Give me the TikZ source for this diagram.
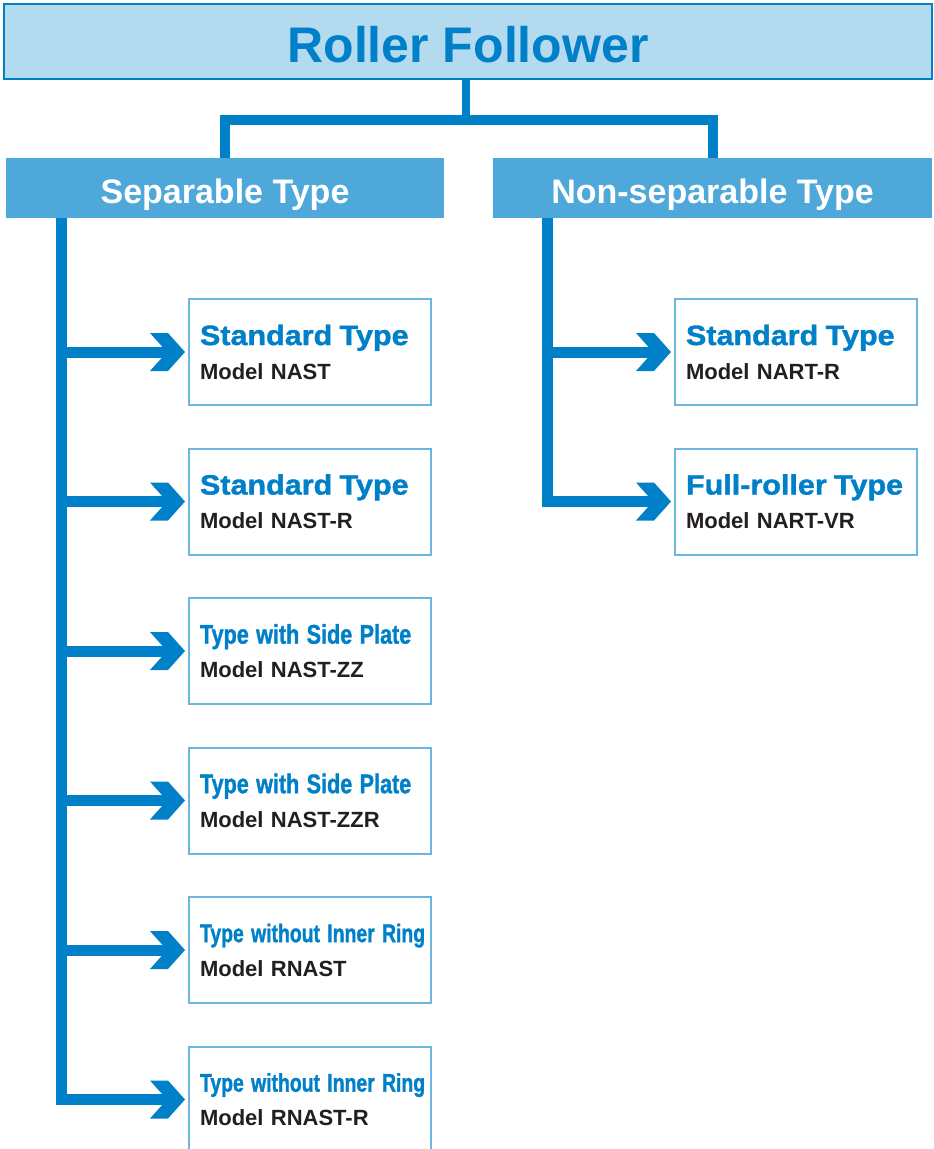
\documentclass[tikz,border=0pt]{standalone}
\usepackage{fontspec}
\setmainfont{Liberation Sans}
\newfontfamily\widefont[FakeStretch=1.09,FakeBold=1.4]{Liberation Sans}
\newfontfamily\narrowfont[FakeStretch=0.8,FakeBold=1.2]{Liberation Sans}
\newfontfamily\narrowerfont[FakeStretch=0.76,FakeBold=1.2]{Liberation Sans}
\definecolor{linkblue}{RGB}{0,128,200}
\definecolor{headfill}{RGB}{79,168,218}
\definecolor{titlefill}{RGB}{179,218,238}
\definecolor{boxline}{RGB}{107,181,224}
\definecolor{inkgray}{RGB}{35,31,32}
\newcommand{\kind}[1]{\mbox{\widefont\bfseries\color{linkblue}\fontsize{28}{34}\selectfont #1}}
\newcommand{\sidekind}[1]{\mbox{\narrowfont\bfseries\color{linkblue}\fontsize{27}{34}\selectfont #1}}
\newcommand{\ringkind}[1]{\mbox{\narrowerfont\bfseries\color{linkblue}\fontsize{25.5}{34}\selectfont #1}}
\newcommand{\model}[1]{{\bfseries\color{inkgray}#1}}
\begin{document}
\begin{tikzpicture}[x=1pt,y=-1pt,
    link/.style={draw=linkblue,line width=11pt,line cap=butt,line join=miter},
    headbox/.style={rectangle,fill=headfill,minimum height=60pt,text=white,
      text height=30pt,text depth=0pt,font=\bfseries\fontsize{34}{40}\selectfont},
    kindbox/.style={rectangle,draw=boxline,line width=2pt,fill=white,anchor=north west,
      text width=220pt,inner xsep=11pt,minimum height=106pt,align=left,
      font=\fontsize{22}{34}\selectfont}]

       \useasboundingbox (0,0) rectangle (934,1149);

       % top of the tree
       \node[rectangle,draw=linkblue,line width=2pt,fill=titlefill,minimum width=928pt,
         minimum height=75pt,text=linkblue,text height=41pt,text depth=0pt,
         font=\bfseries\fontsize{50}{60}\selectfont] (title) at (468,41.5) {Roller Follower};
       \node[headbox,minimum width=438pt] (sep) at (225,188) {Separable Type};
       \node[headbox,minimum width=439pt] (nonsep) at (712.5,188) {Non-separable Type};

       \coordinate (fork) at (466,120);
       \draw[link,line width=8pt] (fork |- title.south) -- (fork);
       \draw[link,line width=10pt] (sep.north) |- (fork) -| (nonsep.north);

       % separable
       \node[kindbox] (b1) at (188,298) {\kind{Standard Type}\\\model{Model NAST}};
       \node[kindbox] (b2) at (188,447.5) {\kind{Standard Type}\\\model{Model NAST-R}};
       \node[kindbox] (b3) at (188,597) {\sidekind{Type with Side Plate}\\\model{Model NAST-ZZ}};
       \node[kindbox] (b4) at (188,746.5) {\sidekind{Type with Side Plate}\\\model{Model NAST-ZZR}};
       \node[kindbox] (b5) at (188,896) {\ringkind{Type without Inner Ring}\\\model{Model RNAST}};
       \node[kindbox] (b6) at (188,1045.5) {\ringkind{Type without Inner Ring}\\\model{Model RNAST-R}};

       % non-separable
       \node[kindbox] (r1) at (674,298) {\kind{Standard Type}\\\model{Model NART-R}};
       \node[kindbox] (r2) at (674,447.5) {\kind{Full-roller Type}\\\model{Model NART-VR}};

       \coordinate (lt) at (61.5,218);
       \coordinate (rt) at (547.5,218);
       \draw[link] (lt) -- (lt |- b6.west) -- ([xshift=-20pt]b6.west);
       \foreach \b in {b1,b2,b3,b4,b5}
         \draw[link] (lt |- \b.west) -- ([xshift=-20pt]\b.west);
       \draw[link] (rt) -- (rt |- r2.west) -- ([xshift=-20pt]r2.west);
       \draw[link] (rt |- r1.west) -- ([xshift=-20pt]r1.west);

       \foreach \b in {b1,b2,b3,b4,b5,b6,r1,r2}
         \fill[linkblue] ([xshift=-3pt]\b.west) -- ++(-17,-19) -- ++(-18,0) -- ++(17,19)
           -- ++(-17,19) -- ++(18,0) -- cycle;
     \end{tikzpicture}
\end{document}
